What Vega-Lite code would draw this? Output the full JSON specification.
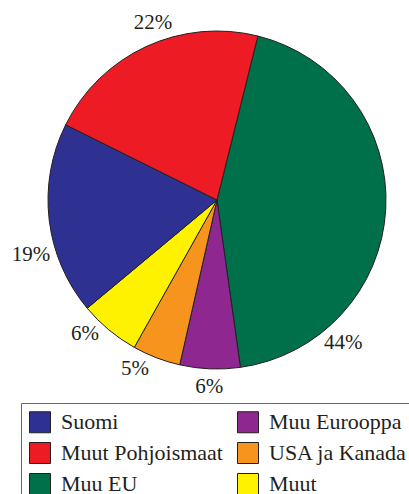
{
  "$schema": "https://vega.github.io/schema/vega-lite/v6.json",
  "width": 384,
  "height": 400,
  "autosize": {"type": "none"},
  "padding": {"left": 25, "top": 0, "right": 0, "bottom": 94},
  "background": "white",
  "config": {"font": "Liberation Serif"},
  "data": {
    "values": [
      {"region": "Muu EU", "share": 43.9, "label": "44%", "rank": 1},
      {"region": "Muu Eurooppa", "share": 5.75, "label": "6%", "rank": 2},
      {"region": "USA ja Kanada", "share": 4.6, "label": "5%", "rank": 3},
      {"region": "Muut", "share": 5.8, "label": "6%", "rank": 4},
      {"region": "Suomi", "share": 18.4, "label": "19%", "rank": 5},
      {"region": "Muut Pohjoismaat", "share": 21.55, "label": "22%", "rank": 6}
    ]
  },
  "encoding": {
    "theta": {
      "field": "share",
      "type": "quantitative",
      "stack": true,
      "scale": {"domain": [0, 100], "range": [0.2443, 6.5275], "nice": false}
    },
    "order": {"field": "rank", "type": "quantitative"}
  },
  "layer": [
    {
      "mark": {"type": "arc", "outerRadius": 169, "stroke": "#231f20", "strokeWidth": 1},
      "encoding": {
        "color": {
          "field": "region",
          "type": "nominal",
          "scale": {
            "domain": ["Suomi", "Muut Pohjoismaat", "Muu EU", "Muu Eurooppa", "USA ja Kanada", "Muut"],
            "range": ["#2E3192", "#ED1C24", "#00704A", "#8E278F", "#F7941D", "#FFF200"]
          },
          "legend": {
            "title": null,
            "orient": "none",
            "legendX": -4,
            "legendY": 403,
            "columns": 2,
            "symbolType": "square",
            "symbolSize": 441,
            "symbolStrokeColor": "#231f20",
            "symbolStrokeWidth": 1,
            "symbolOpacity": 1,
            "labelFont": "Liberation Serif",
            "labelFontSize": 22,
            "labelColor": "#231f20",
            "labelOffset": 10,
            "labelLimit": 400,
            "columnPadding": 12,
            "rowPadding": 5,
            "padding": 8,
            "strokeColor": "#666666"
          }
        }
      }
    },
    {
      "mark": {"type": "text", "radius": 191, "thetaOffset": 0.796, "font": "Liberation Serif", "fontSize": 21, "color": "#231f20", "align": "center", "baseline": "middle"},
      "encoding": {
        "text": {"condition": {"test": "datum.region !== 'Muu EU'", "value": ""}, "field": "label", "type": "nominal"}
      }
    },
    {
      "mark": {"type": "text", "radius": 194, "thetaOffset": -0.169, "font": "Liberation Serif", "fontSize": 21, "color": "#231f20", "align": "center", "baseline": "middle"},
      "encoding": {
        "text": {"condition": {"test": "datum.region !== 'Suomi'", "value": ""}, "field": "label", "type": "nominal"}
      }
    },
    {
      "mark": {"type": "text", "radius": 188, "thetaOffset": 0.085, "font": "Liberation Serif", "fontSize": 21, "color": "#231f20", "align": "center", "baseline": "middle"},
      "encoding": {
        "text": {"condition": {"test": "datum.region === 'Muu EU' || datum.region === 'Suomi' || datum.region === 'Muu Eurooppa'", "value": ""}, "field": "label", "type": "nominal"}
      }
    },
    {
      "mark": {"type": "text", "radius": 187, "font": "Liberation Serif", "fontSize": 21, "color": "#231f20", "align": "center", "baseline": "middle"},
      "encoding": {
        "text": {"condition": {"test": "datum.region !== 'Muu Eurooppa'", "value": ""}, "field": "label", "type": "nominal"}
      }
    }
  ]
}
